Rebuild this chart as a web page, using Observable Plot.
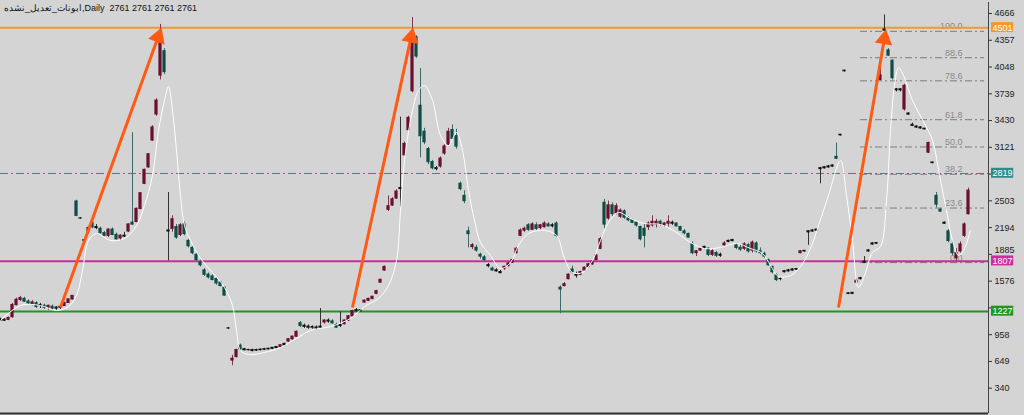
<!DOCTYPE html>
<html><head><meta charset="utf-8">
<script src="https://cdn.jsdelivr.net/npm/d3@7"></script>
<script src="https://cdn.jsdelivr.net/npm/@observablehq/plot@0.6"></script>
<style>
html,body{margin:0;padding:0;background:#d4d4d4;}
#wrap{position:relative;width:1024px;height:415px;overflow:hidden;}
#title{position:absolute;left:4px;top:3px;font:9px "Liberation Sans",Arial,sans-serif;color:#111;white-space:pre;direction:ltr;}
</style></head><body><div id="wrap"><div id="chart"></div><div id="title"></div></div>
<script>
const titleText = "ابونات_تعدیل_نشده,Daily  2761 2761 2761 2761";

const yTicks = [340,649,958,1267,1576,1885,2194,2503,2812,3121,3430,3739,4048,4357,4666];
const hiddenTicks = [1267, 2812];   // covered by the level boxes
const raisedTicks = [1885];         // partly under a level box, drawn a little higher
const xDomain = [0, 247];
const yDomain = [48, 4793];

// [day, open, high, low, close]
const candles = [
[0,1130,1150,1110,1120],[1,1120,1140,1110,1130],[2,1130,1160,1120,1150],[3,1160,1320,1150,1300],
[4,1300,1380,1290,1360],[5,1360,1400,1340,1380],[6,1370,1390,1330,1340],[7,1340,1360,1300,1320],
[8,1310,1350,1290,1330],[9,1320,1340,1260,1280],[10,1290,1320,1260,1300],[11,1290,1310,1250,1270],
[12,1270,1300,1240,1290],[13,1280,1300,1240,1260],[14,1260,1280,1240,1270],[15,1270,1290,1250,1280],
[16,1290,1330,1285,1325],[17,1325,1370,1320,1365],[18,1365,1410,1360,1405],[19,2495,2510,2320,2330],
[20,2300,2310,2290,2300],[21,2040,2060,2000,2050],[22,2150,2200,2140,2190],[23,2250,2280,2180,2200],
[24,2200,2230,2170,2190],[25,2180,2200,2120,2130],[26,2130,2150,2090,2100],[27,2100,2180,2080,2170],
[28,2170,2190,2100,2110],[29,2110,2130,2050,2060],[30,2070,2110,2040,2100],[31,2100,2140,2080,2090],
[32,2150,2240,2140,2230],[33,2250,3290,2220,2230],[34,2260,2420,2250,2410],[35,2410,2600,2400,2590],
[36,2700,2870,2690,2860],[37,2890,3050,2880,3040],[38,3200,3370,3190,3350],[39,3500,3680,3480,3660],
[40,3950,4540,3900,4420],[41,4230,4260,3960,3990],[42,2150,2600,1810,2160],[43,2180,2330,2140,2290],
[44,2200,2230,2060,2080],[45,2110,2240,2090,2220],[46,2230,2260,2100,2120],[47,2040,2060,1960,1980],
[48,1960,1980,1880,1900],[49,1880,1900,1800,1820],[50,1790,1820,1740,1760],[51,1700,1720,1630,1650],
[52,1650,1670,1600,1620],[53,1630,1650,1580,1590],[54,1600,1620,1530,1550],[55,1560,1570,1510,1520],
[56,1500,1510,1400,1410],[57,1030,1040,1020,1030],[58,660,720,600,680],[59,700,790,690,780],
[60,830,850,770,790],[61,790,800,770,780],[62,780,790,770,780],[63,780,790,760,770],
[64,775,790,765,780],[65,780,790,770,785],[66,785,800,775,790],[67,790,800,780,795],
[68,795,810,790,805],[69,805,820,795,815],[70,815,840,810,835],[71,835,860,830,850],
[72,880,910,870,905],[73,905,940,895,935],[74,935,1000,930,990],[75,1090,1110,1040,1060],
[76,1060,1080,1030,1050],[77,1050,1070,1020,1040],[78,1040,1060,1020,1045],[79,1040,1060,1010,1030],
[80,1040,1260,1030,1050],[81,1100,1130,1080,1120],[82,1120,1140,1090,1110],[83,1110,1130,1080,1090],
[84,1070,1090,1030,1040],[85,1060,1220,1040,1070],[86,1080,1130,1070,1120],[87,1120,1180,1110,1170],
[88,1170,1240,1160,1230],[89,1240,1260,1220,1230],[90,1230,1250,1220,1240],[91,1330,1360,1320,1350],
[92,1350,1380,1340,1370],[93,1370,1400,1365,1395],[94,1430,1470,1420,1460],[95,1560,1600,1550,1590],
[96,1700,1750,1690,1740],[97,2400,2560,2380,2440],[98,2450,2540,2440,2520],[99,2530,2630,2520,2610],
[100,2650,3470,2430,2640],[101,3030,3180,3020,3160],[102,3320,3480,3310,3460],[103,3770,4620,3750,4380],
[104,4390,4410,4150,4170],[105,3600,4030,3000,3250],[106,3300,3340,3150,3180],[107,3100,3120,2920,2950],
[108,2950,2970,2860,2880],[109,2880,2900,2850,2870],[110,2900,3010,2880,2990],[111,3050,3150,3030,3130],
[112,3150,3340,3140,3300],[113,3320,3380,3200,3220],[114,3250,3330,3100,3130],[115,2700,2720,2620,2640],
[116,2560,2620,2470,2500],[117,2150,2200,1960,2120],[118,1970,2010,1940,1990],[119,1960,1990,1910,1930],
[120,1880,1900,1830,1860],[121,1850,1870,1800,1820],[122,1760,1780,1730,1750],[123,1720,1740,1690,1700],
[124,1700,1720,1680,1690],[125,1680,1700,1660,1670],[126,1720,1750,1700,1740],[127,1750,1790,1740,1780],
[128,1790,1830,1780,1820],[129,1900,1960,1890,1950],[130,2100,2180,2090,2160],[131,2160,2200,2140,2180],
[132,2220,2240,2150,2170],[133,2170,2250,2160,2230],[134,2220,2250,2160,2180],[135,2190,2230,2170,2220],
[136,2200,2260,2190,2240],[137,2230,2250,2200,2210],[138,2210,2240,2190,2220],[139,2240,2260,2080,2100],
[140,1500,1520,1200,1480],[141,1520,1560,1510,1540],[142,1600,1660,1590,1650],[143,1710,1750,1660,1680],
[144,1650,1680,1610,1640],[145,1650,1690,1640,1680],[146,1700,1740,1690,1730],[147,1740,1780,1730,1770],
[148,1770,1810,1760,1800],[149,1820,1880,1810,1870],[150,1950,2080,1940,2060],[151,2480,2520,2180,2230],
[152,2300,2500,2280,2450],[153,2450,2480,2320,2350],[154,2360,2470,2340,2440],[155,2320,2410,2300,2390],
[156,2380,2400,2290,2310],[157,2300,2320,2260,2280],[158,2280,2290,2240,2250],[159,2250,2260,2200,2220],
[160,2200,2210,2040,2060],[161,2180,2230,1960,2100],[162,2200,2260,2160,2240],[163,2220,2330,2200,2260],
[164,2230,2290,2190,2260],[165,2260,2280,2210,2230],[166,2220,2250,2200,2240],[167,2240,2330,2200,2260],
[168,2250,2270,2220,2240],[169,2240,2250,2200,2210],[170,2200,2210,2150,2160],[171,2150,2170,2110,2130],
[172,2120,2130,2070,2080],[173,2000,2030,1880,1900],[174,1900,1930,1860,1920],[175,1930,1960,1920,1950],
[176,1960,1980,1940,1970],[177,1950,1960,1860,1880],[178,1880,1940,1860,1920],[179,1900,1920,1850,1870],
[180,1880,1900,1850,1870],[181,1990,2030,1980,2010],[182,2030,2050,2020,2040],[183,2040,2060,2030,2050],
[184,1990,2010,1940,1960],[185,1960,2000,1920,1940],[186,1950,2020,1930,2000],[187,1990,2010,1900,1920],
[188,1930,2040,1900,2020],[189,2010,2030,1900,1920],[190,1920,1960,1880,1900],[191,1890,1910,1840,1860],
[192,1820,1830,1750,1760],[193,1740,1750,1660,1680],[194,1640,1660,1570,1590],[195,1600,1620,1580,1600],
[196,1680,1700,1670,1690],[197,1690,1710,1680,1700],[198,1700,1720,1690,1710],[199,1710,1720,1700,1715],
[200,1900,1930,1890,1920],[201,1920,1930,1910,1925],[202,2140,2160,1990,2150],[203,2150,2170,2140,2160],
[204,2160,2175,2150,2170],[205,2870,2890,2700,2880],[206,2880,2900,2870,2890],[207,2890,2910,2880,2900],
[208,2900,2920,2890,2910],[209,3010,3170,2980,2990],[210,3260,3270,3250,3265],[211,4000,4010,3990,4005],
[212,1430,1440,1420,1435],[213,1430,1445,1420,1440],[214,1560,1600,1540,1580],[215,1600,1620,1590,1610],
[216,1790,1860,1780,1800],[217,1920,1940,1910,1930],[218,2000,2020,1990,2010],[219,2010,2020,2000,2015],
[220,3900,4040,3890,3950],[221,4470,4650,4460,4480],[222,4240,4260,4170,4180],[223,4120,4130,3900,3920],
[224,3790,3800,3760,3780],[225,3790,3800,3760,3780],[226,3560,3850,3540,3830],[227,3510,3520,3490,3500],
[228,3380,3400,3360,3370],[229,3360,3370,3340,3350],[230,3350,3360,3330,3340],[231,3330,3340,3320,3335],
[232,3060,3180,3050,3170],[233,2940,2950,2930,2945],[234,2560,2600,2420,2460],[235,2400,2410,2370,2380],
[236,2250,2260,2230,2240],[237,2150,2170,2020,2040],[238,2000,2040,1870,1900],[239,1840,1950,1800,1900],
[240,1920,2030,1900,2000],[241,2100,2250,2080,2230],[242,2350,2650,2340,2620]
];

// moving average [day, value]
const maLine = [
[0,1122],[5,1295],[10,1295],[14,1237],[17,1283],[19,1410],[20.5,1699],[22,2045],[24,2126],[27.5,2045],
[31,2068],[34,2218],[36,2449],[38,2796],[39.5,3315],[41,3662],[42,3823],[43,3546],[44,3084],[45,2565],
[46,2218],[47.5,2045],[50,1838],[53,1676],[56,1503],[58,1295],[59,1006],[60,775],[62,729],[66,752],
[70,810],[74,914],[77.5,1006],[82.5,1052],[87.5,1145],[91,1283],[94.5,1376],[97,1526],[99,1814],[100,2392],
[101,2969],[103,3546],[104.5,3777],[106,3835],[108,3662],[110,3258],[112,3142],[114,3292],[115.5,3084],[117,2623],
[118.5,2276],[120,2022],[122.5,1872],[125,1722],[127.5,1791],[129.5,1988],[132,2126],[136,2161],[139,2103],[141,1838],
[143,1676],[145.5,1676],[148,1814],[150,2045],[152,2253],[154.5,2369],[157.5,2299],[161,2241],[165,2230],[169,2138],
[172.5,2022],[176,1953],[180,1965],[184,2011],[187.5,1953],[190.5,1895],[192.5,1757],[194.5,1630],[197.5,1641],[200,1745],
[202.5,1953],[204.5,2218],[207,2565],[210,2969],[211.5,2565],[213,2045],[214.5,1503],[216,1641],[218,1907],[220,1976],
[221.5,2507],[222.5,3315],[223.5,3835],[224.5,4042],[225.75,3950],[228,3662],[231.25,3373],[233,3200],[235,2738],[236.5,2392],
[238,2045],[239.5,1872],[240.75,1930],[242.5,2161]
];

const levelValues = [4501, 2819, 1807, 1227];
const levelColors = ["#f29a2e", "#2e8c86", "#cc2d9c", "#1f961f"];
const levelDashes = [null, "8,3,2,3", null, null];
const levelWidths = [2, 1, 2, 2];

const fibRatios = [0, 23.6, 38.2, 50.0, 61.8, 78.6, 88.6, 100.0];
const fibLow = 1790, fibHigh = 4460;
const fibStartDay = 215, fibEndDay = 246, fibLabelDay = 240.5;

const arrowFrom = [[15,1272],[88,1272],[209.5,1272]];
const arrowTo = [[40,4470],[103,4470],[221.25,4450]];

const MAROON = "#6a0f2e", TEAL = "#0e4c46", DOJI = "#111";
const colorOf = d => Math.abs(d[4]-d[1]) < 16 ? DOJI : (d[4] > d[1] ? MAROON : TEAL);
const wickOf = d => Math.abs(d[4]-d[1]) < 16 ? "#333" : (d[4] > d[1] ? "#7a3a4e" : "#3f6b66");

const W = 1024, H = 415, mL = 0, mR = 36, mT = 2, mB = 2;
const xPx = d3.scaleLinear(xDomain, [mL, W - mR]);
const yPx = d3.scaleLinear(yDomain, [H - mB, mT]);
const dayPerPx = (xDomain[1] - xDomain[0]) / (W - mR - mL);

const levels = levelValues.map((v,i)=>({v, color: levelColors[i], dash: levelDashes[i], w: levelWidths[i]}));
const fibs = fibRatios.map(r=>({r, v: fibLow + (fibHigh-fibLow)*r/100}));
const HEAD = 7;
const arrows = arrowFrom.map((a,i)=>{
  const b = arrowTo[i];
  const dx = xPx(b[0]) - xPx(a[0]), dy = yPx(b[1]) - yPx(a[1]);
  const len = Math.hypot(dx, dy), f = HEAD / len;
  return {x1:a[0], y1:a[1], x2:b[0], y2:b[1],
          hx: b[0] - (b[0]-a[0])*f, hy: b[1] - (b[1]-a[1])*f,
          angle: Math.atan2(dx, -dy) * 180 / Math.PI};
});
const xMax = xDomain[1];
const normalTicks = yTicks.filter(t => !hiddenTicks.includes(t) && !raisedTicks.includes(t));

const chart = Plot.plot({
  width: W, height: H,
  marginLeft: mL, marginRight: mR, marginTop: mT, marginBottom: mB,
  style: {background: "#d4d4d4", fontFamily: "Liberation Sans, Arial, sans-serif", fontSize: "9px", color: "#222"},
  x: {domain: xDomain, axis: null},
  y: {domain: yDomain, axis: null},
  marks: [
    Plot.ruleY(fibs, {y: "v", x1: fibStartDay, x2: fibEndDay, stroke: "#7d7d7d", strokeDasharray: "7,3,2,3"}),
    Plot.text(fibs, {x: fibLabelDay, y: "v", text: d => d.r.toFixed(1), textAnchor: "end", dy: -5, fill: "#8a8a8a", fontSize: 9}),
    ...levels.map(l => Plot.ruleY([l.v], {stroke: l.color, strokeWidth: l.w, strokeDasharray: l.dash})),
    Plot.ruleX(candles, {x: d => d[0], y1: d => d[3], y2: d => d[2], stroke: wickOf, strokeWidth: 1}),
    Plot.rect(candles, {x1: d => d[0]-0.4, x2: d => d[0]+0.4, y1: d => Math.min(d[1],d[4]), y2: d => Math.max(d[1],d[4]), fill: colorOf, insetTop: -0.6, insetBottom: -0.6}),
    Plot.line(maLine, {x: d => d[0], y: d => d[1], stroke: "#ffffff", strokeWidth: 1, curve: "catmull-rom"}),
    Plot.link(arrows, {x1: "x1", y1: "y1", x2: "hx", y2: "hy", stroke: "#ff5a14", strokeWidth: 3}),
    Plot.dot(arrows, {x: "hx", y: "hy", symbol: "triangle", r: 6.5, fill: "#ff5a14", stroke: "none", rotate: "angle"}),
    // right price axis
    Plot.ruleX([xMax], {stroke: "#444"}),
    Plot.ruleY([yDomain[0]], {stroke: "#333", strokeWidth: 2}),
    Plot.ruleY(yTicks, {y: d => d, x1: xMax, x2: xMax + 4 * dayPerPx, stroke: "#333"}),
    Plot.text(normalTicks, {x: xMax, y: d => d, text: d => String(d), dx: 6, textAnchor: "start", fill: "#222", fontSize: 9}),
    Plot.text(raisedTicks, {x: xMax, y: d => d, text: d => String(d), dx: 6, dy: -4, textAnchor: "start", fill: "#222", fontSize: 9}),
    Plot.rect(levels, {x1: xMax + 0.75, x2: xMax + 6.3, y1: d => d.v - 55, y2: d => d.v + 60, fill: "color"}),
    Plot.text(levels, {x: xMax + 3.5, y: "v", text: d => String(d.v), fill: "#fff", fontSize: 9})
  ]
});
document.getElementById("chart").appendChild(chart);
document.getElementById("title").textContent = titleText;
</script>
</body></html>
